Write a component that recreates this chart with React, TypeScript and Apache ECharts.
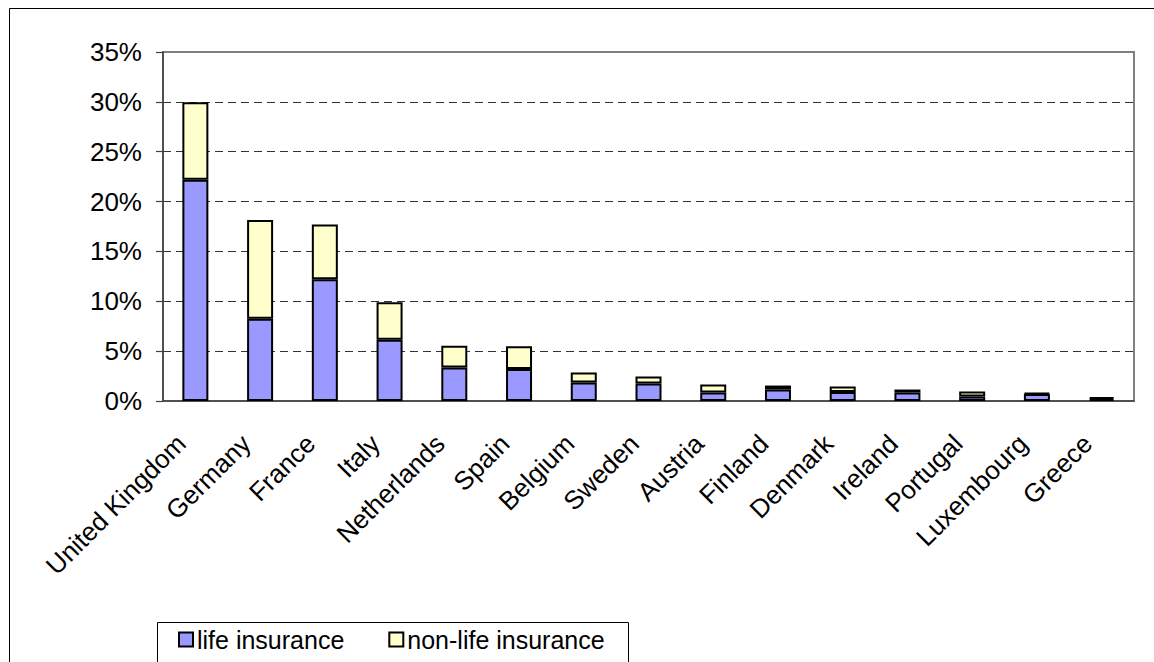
import React, { useEffect, useRef } from "react";
import * as echarts from "echarts";

// Insurance premiums by country, share of the EU total (%)
const countries = [
  "United Kingdom", "Germany", "France", "Italy", "Netherlands", "Spain",
  "Belgium", "Sweden", "Austria", "Finland", "Denmark", "Ireland",
  "Portugal", "Luxembourg", "Greece",
];
const lifeInsurance = [22.2, 8.25, 12.2, 6.15, 3.35, 3.2, 1.85, 1.75, 0.85, 1.15, 0.9, 0.85, 0.45, 0.7, 0.2];
const nonLifeInsurance = [7.75, 9.9, 5.5, 3.75, 2.2, 2.3, 1.0, 0.7, 0.8, 0.4, 0.55, 0.3, 0.5, 0.1, 0.2];
const yTicks = { min: 0, max: 35, interval: 5 };

const FONT = "'Liberation Sans', Arial, sans-serif";
const FONT_SIZE = 26;

export default function App() {
  const ref = useRef<HTMLDivElement>(null);

  useEffect(() => {
    if (!ref.current) return;
    const chart = echarts.init(ref.current, null, { renderer: "svg" });
    chart.setOption({
      animation: false,
      backgroundColor: "#ffffff",
      textStyle: { fontFamily: FONT, color: "#000" },
      grid: {
        left: 163,
        right: 20,
        top: 52,
        bottom: 261,
        show: true,
        borderColor: "#808080",
        borderWidth: 2,
        backgroundColor: "transparent",
      },
      legend: {
        left: 178,
        top: 626,
        padding: 0,
        itemWidth: 14,
        itemHeight: 14,
        itemGap: 44,
        icon: "rect",
        textStyle: { fontFamily: FONT, fontSize: 25, color: "#000", padding: [0, 0, 0, -1], lineHeight: 27 },
        data: ["life insurance", "non-life insurance"],
      },
      xAxis: {
        type: "category",
        data: countries,
        axisLine: { lineStyle: { color: "#404040", width: 1.5 } },
        axisTick: { length: 7, lineStyle: { color: "#404040", width: 1.2 } },
        axisLabel: {
          rotate: 45,
          interval: 0,
          margin: 24,
          fontSize: FONT_SIZE,
          fontFamily: FONT,
          color: "#000",
          padding: [0, 20, 0, 0],
        },
      },
      yAxis: {
        type: "value",
        min: yTicks.min,
        max: yTicks.max,
        interval: yTicks.interval,
        axisLine: { show: true, lineStyle: { color: "#404040", width: 1.5 } },
        axisTick: { show: true, length: 7, lineStyle: { color: "#404040", width: 1.2 } },
        axisLabel: {
          formatter: "{value}%",
          margin: 21,
          fontSize: FONT_SIZE,
          fontFamily: FONT,
          color: "#000",
        },
        splitLine: {
          show: true,
          showMinLine: false,
          showMaxLine: false,
          lineStyle: { color: "#333", type: [8, 5], width: 1 },
        },
      },
      series: [
        {
          name: "life insurance",
          type: "bar",
          stack: "total",
          data: lifeInsurance,
          barWidth: 26,
          itemStyle: { color: "#9999ff", borderColor: "#000", borderWidth: 2 },
        },
        {
          name: "non-life insurance",
          type: "bar",
          stack: "total",
          data: nonLifeInsurance,
          barWidth: 26,
          itemStyle: { color: "#ffffcc", borderColor: "#000", borderWidth: 2 },
        },
      ],
      graphic: [
        {
          type: "rect",
          shape: { x: 9.5, y: 8.5, width: 1160, height: 700 },
          style: { fill: "none", stroke: "#000", lineWidth: 1 },
          silent: true,
        },
        {
          type: "rect",
          shape: { x: 157.5, y: 622.5, width: 471, height: 60 },
          style: { fill: "none", stroke: "#000", lineWidth: 1 },
          silent: true,
        },
      ],
    });
    return () => chart.dispose();
  }, []);

  return (
    <div
      ref={ref}
      style={{ position: "fixed", left: 0, top: 0, width: 1154, height: 662 }}
    />
  );
}
